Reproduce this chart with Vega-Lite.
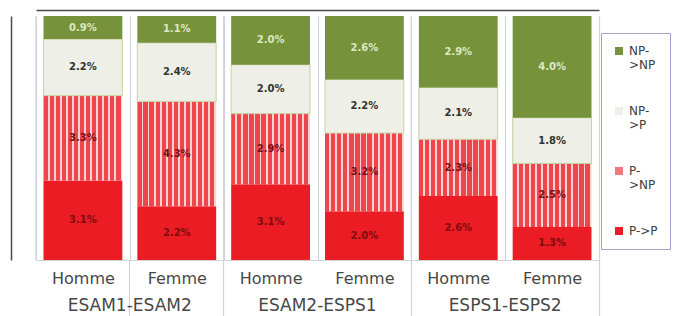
{
  "$schema": "https://vega.github.io/schema/vega-lite/v6.json",
  "width": 563,
  "height": 244,
  "autosize": {"type": "none"},
  "padding": {"left": 36, "top": 16, "right": 75, "bottom": 56},
  "background": "white",
  "config": {"view": {"stroke": null}},
  "data": {
    "values": [
      {"key": "ESAM1-ESAM2|Homme", "sex": "Homme", "transition": "P->P", "value": 3.1, "label": "3.1%"},
      {"key": "ESAM1-ESAM2|Homme", "sex": "Homme", "transition": "P->NP", "value": 3.3, "label": "3.3%"},
      {"key": "ESAM1-ESAM2|Homme", "sex": "Homme", "transition": "NP->P", "value": 2.2, "label": "2.2%"},
      {"key": "ESAM1-ESAM2|Homme", "sex": "Homme", "transition": "NP->NP", "value": 0.9, "label": "0.9%"},
      {"key": "ESAM1-ESAM2|Femme", "sex": "Femme", "transition": "P->P", "value": 2.2, "label": "2.2%"},
      {"key": "ESAM1-ESAM2|Femme", "sex": "Femme", "transition": "P->NP", "value": 4.3, "label": "4.3%"},
      {"key": "ESAM1-ESAM2|Femme", "sex": "Femme", "transition": "NP->P", "value": 2.4, "label": "2.4%"},
      {"key": "ESAM1-ESAM2|Femme", "sex": "Femme", "transition": "NP->NP", "value": 1.1, "label": "1.1%"},
      {"key": "ESAM2-ESPS1|Homme", "sex": "Homme", "transition": "P->P", "value": 3.1, "label": "3.1%"},
      {"key": "ESAM2-ESPS1|Homme", "sex": "Homme", "transition": "P->NP", "value": 2.9, "label": "2.9%"},
      {"key": "ESAM2-ESPS1|Homme", "sex": "Homme", "transition": "NP->P", "value": 2.0, "label": "2.0%"},
      {"key": "ESAM2-ESPS1|Homme", "sex": "Homme", "transition": "NP->NP", "value": 2.0, "label": "2.0%"},
      {"key": "ESAM2-ESPS1|Femme", "sex": "Femme", "transition": "P->P", "value": 2.0, "label": "2.0%"},
      {"key": "ESAM2-ESPS1|Femme", "sex": "Femme", "transition": "P->NP", "value": 3.2, "label": "3.2%"},
      {"key": "ESAM2-ESPS1|Femme", "sex": "Femme", "transition": "NP->P", "value": 2.2, "label": "2.2%"},
      {"key": "ESAM2-ESPS1|Femme", "sex": "Femme", "transition": "NP->NP", "value": 2.6, "label": "2.6%"},
      {"key": "ESPS1-ESPS2|Homme", "sex": "Homme", "transition": "P->P", "value": 2.6, "label": "2.6%"},
      {"key": "ESPS1-ESPS2|Homme", "sex": "Homme", "transition": "P->NP", "value": 2.3, "label": "2.3%"},
      {"key": "ESPS1-ESPS2|Homme", "sex": "Homme", "transition": "NP->P", "value": 2.1, "label": "2.1%"},
      {"key": "ESPS1-ESPS2|Homme", "sex": "Homme", "transition": "NP->NP", "value": 2.9, "label": "2.9%"},
      {"key": "ESPS1-ESPS2|Femme", "sex": "Femme", "transition": "P->P", "value": 1.3, "label": "1.3%"},
      {"key": "ESPS1-ESPS2|Femme", "sex": "Femme", "transition": "P->NP", "value": 2.5, "label": "2.5%"},
      {"key": "ESPS1-ESPS2|Femme", "sex": "Femme", "transition": "NP->P", "value": 1.8, "label": "1.8%"},
      {"key": "ESPS1-ESPS2|Femme", "sex": "Femme", "transition": "NP->NP", "value": 4.0, "label": "4.0%"}
    ]
  },
  "resolve": {"axis": {"x": "independent"}},
  "layer": [
    {
      "mark": {"type": "bar", "width": {"band": 0.84}, "strokeWidth": 1},
      "encoding": {
        "x": {
          "field": "key", "type": "nominal", "sort": null,
          "scale": {"domain": ["ESAM1-ESAM2|Homme", "ESAM1-ESAM2|Femme", "ESAM2-ESPS1|Homme", "ESAM2-ESPS1|Femme", "ESPS1-ESPS2|Homme", "ESPS1-ESPS2|Femme"], "paddingInner": 0, "paddingOuter": 0},
          "axis": {"orient": "bottom", "title": null, "labelExpr": "split(datum.label, '|')[1]", "labelFont": "DejaVu Sans", "labelFontSize": 16, "labelColor": "#474747", "labelPadding": 10, "labelAngle": 0, "labelOverlap": false, "ticks": false, "domain": true, "domainColor": "#d4d4d4", "grid": true, "gridColor": "#cfd3de", "gridWidth": 1.2, "tickBand": "extent"}
        },
        "y": {
          "field": "value", "type": "quantitative", "stack": "normalize",
          "axis": {"orient": "left", "offset": 25, "title": null, "labels": false, "ticks": false, "grid": false, "domain": true, "domainColor": "#4a4a4a", "domainWidth": 1.5}
        },
        "order": {"field": "transition", "sort": "descending"},
        "fill": {
          "field": "transition", "type": "nominal",
          "scale": {"domain": ["NP->NP", "NP->P", "P->NP", "P->P"], "range": ["#76933c", "#eeefe6", "#f27a7e", "#ec1c24"]},
          "condition": {
            "test": "datum.transition === 'P->NP'",
            "value": {
              "gradient": "linear", "x1": 0, "y1": 0, "x2": 1, "y2": 0,
              "stops": [
                {"offset": 0, "color": "#f0464b"}, {"offset": 0.05385, "color": "#f0464b"}, {"offset": 0.05385, "color": "#fbd3d3"}, {"offset": 0.07692, "color": "#fbd3d3"},
                {"offset": 0.07692, "color": "#f0464b"}, {"offset": 0.13077, "color": "#f0464b"}, {"offset": 0.13077, "color": "#fbd3d3"}, {"offset": 0.15385, "color": "#fbd3d3"},
                {"offset": 0.15385, "color": "#f0464b"}, {"offset": 0.20769, "color": "#f0464b"}, {"offset": 0.20769, "color": "#fbd3d3"}, {"offset": 0.23077, "color": "#fbd3d3"},
                {"offset": 0.23077, "color": "#f0464b"}, {"offset": 0.28462, "color": "#f0464b"}, {"offset": 0.28462, "color": "#fbd3d3"}, {"offset": 0.30769, "color": "#fbd3d3"},
                {"offset": 0.30769, "color": "#f0464b"}, {"offset": 0.36154, "color": "#f0464b"}, {"offset": 0.36154, "color": "#fbd3d3"}, {"offset": 0.38462, "color": "#fbd3d3"},
                {"offset": 0.38462, "color": "#f0464b"}, {"offset": 0.43846, "color": "#f0464b"}, {"offset": 0.43846, "color": "#fbd3d3"}, {"offset": 0.46154, "color": "#fbd3d3"},
                {"offset": 0.46154, "color": "#f0464b"}, {"offset": 0.51538, "color": "#f0464b"}, {"offset": 0.51538, "color": "#fbd3d3"}, {"offset": 0.53846, "color": "#fbd3d3"},
                {"offset": 0.53846, "color": "#f0464b"}, {"offset": 0.59231, "color": "#f0464b"}, {"offset": 0.59231, "color": "#fbd3d3"}, {"offset": 0.61538, "color": "#fbd3d3"},
                {"offset": 0.61538, "color": "#f0464b"}, {"offset": 0.66923, "color": "#f0464b"}, {"offset": 0.66923, "color": "#fbd3d3"}, {"offset": 0.69231, "color": "#fbd3d3"},
                {"offset": 0.69231, "color": "#f0464b"}, {"offset": 0.74615, "color": "#f0464b"}, {"offset": 0.74615, "color": "#fbd3d3"}, {"offset": 0.76923, "color": "#fbd3d3"},
                {"offset": 0.76923, "color": "#f0464b"}, {"offset": 0.82308, "color": "#f0464b"}, {"offset": 0.82308, "color": "#fbd3d3"}, {"offset": 0.84615, "color": "#fbd3d3"},
                {"offset": 0.84615, "color": "#f0464b"}, {"offset": 0.9, "color": "#f0464b"}, {"offset": 0.9, "color": "#fbd3d3"}, {"offset": 0.92308, "color": "#fbd3d3"},
                {"offset": 0.92308, "color": "#f0464b"}, {"offset": 0.97692, "color": "#f0464b"}, {"offset": 0.97692, "color": "#fbd3d3"}, {"offset": 1, "color": "#fbd3d3"}
              ]
            }
          },
          "legend": {
            "title": null, "orient": "none", "legendX": 565, "legendY": 17,
            "strokeColor": "#a0a4c8", "fillColor": "white", "padding": 12,
            "symbolType": "square", "symbolSize": 64, "symbolStrokeWidth": 0,
            "labelFont": "DejaVu Sans", "labelFontSize": 12, "labelColor": "#404040",
            "rowPadding": 34,
            "labelExpr": "datum.label === 'NP->NP' ? ['NP-', '>NP'] : datum.label === 'NP->P' ? ['NP-', '>P'] : datum.label === 'P->NP' ? ['P-', '>NP'] : datum.label"
          }
        },
        "stroke": {"condition": {"test": "datum.transition === 'NP->P'", "value": "#c8d2a0"}, "value": null}
      }
    },
    {
      "mark": {"type": "text", "font": "DejaVu Sans", "fontWeight": "bold", "fontSize": 10},
      "encoding": {
        "x": {
          "field": "key", "type": "nominal", "sort": null,
          "axis": {"orient": "bottom", "title": null, "values": ["ESAM1-ESAM2|Femme", "ESAM2-ESPS1|Femme", "ESPS1-ESPS2|Femme"], "labelExpr": "split(datum.label, '|')[0]", "labelFont": "DejaVu Sans", "labelFontSize": 17, "labelColor": "#474747", "labelOffset": -47, "labelPadding": -19, "labelAngle": 0, "labelOverlap": false, "ticks": true, "tickSize": 56, "tickColor": "#cfd3de", "tickWidth": 1.2, "bandPosition": 1, "tickExtra": true, "domain": false, "grid": false}
        },
        "y": {"field": "value", "type": "quantitative", "stack": "normalize", "bandPosition": 0.5},
        "order": {"field": "transition", "sort": "descending"},
        "text": {"field": "label"},
        "color": {
          "condition": [
            {"test": "datum.transition === 'NP->NP'", "value": "#dce8c0"},
            {"test": "datum.transition === 'P->P'", "value": "#7d0d10"},
            {"test": "datum.transition === 'P->NP'", "value": "#701418"}
          ],
          "value": "#333333"
        }
      }
    },
    {
      "transform": [{"filter": "datum.sex === 'Homme' && datum.transition === 'P->P'"}],
      "mark": {"type": "rule", "color": "#cfd3de", "strokeWidth": 1.2},
      "encoding": {
        "x": {
          "field": "key", "type": "nominal", "sort": null, "bandPosition": 0,
          "axis": {"orient": "top", "offset": 6, "title": null, "labels": false, "ticks": false, "grid": false, "domain": true, "domainColor": "#4a4a4a", "domainWidth": 1.5}
        }
      }
    }
  ]
}
